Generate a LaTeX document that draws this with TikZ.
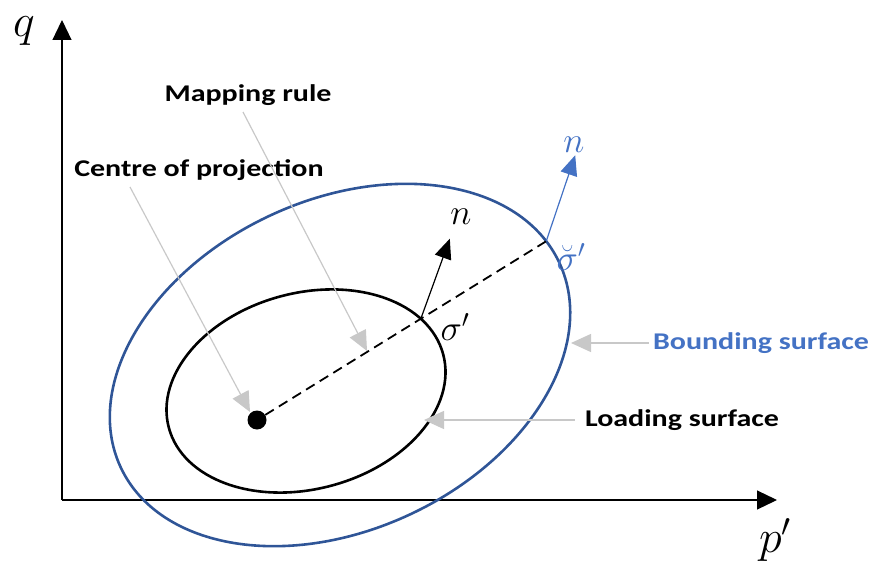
\RequirePackage{fix-cm}
\documentclass[tikz,border=0pt]{standalone}
\usepackage[no-math]{fontspec}
\setmainfont{Carlito}
\usetikzlibrary{arrows.meta,intersections,calc}
\definecolor{bnd}{HTML}{2F5597}
\definecolor{lbl}{HTML}{4472C4}
\definecolor{lead}{HTML}{C8C8C8}
\tikzset{
  axis/.style={line width=1.2pt,-{Triangle[length=20pt,width=19pt]}},
  leader/.style={lead,line width=1.2pt,-{Triangle[length=20pt,width=18pt]}},
  caption/.style={font=\fontsize{24}{28}\selectfont\bfseries,inner sep=0pt,xscale=1.25},
  mathlbl/.style={font=\fontsize{46}{50}\selectfont,inner sep=0pt},
  smlbl/.style={font=\fontsize{36}{40}\selectfont,inner sep=0pt},
}
\begin{document}
\begin{tikzpicture}[x=1pt,y=-1pt]
\useasboundingbox (0,0) rectangle (870,567);
% axes
\coordinate (O) at (62,500);
\coordinate (qtip) at (62,20);
\coordinate (ptip) at (777,500);
\draw[axis] (O) -- (qtip);
\draw[axis] (O) -- (ptip);
\node[mathlbl] (q) at (24,31) {$q$};
\node[mathlbl] (p) at (775,540) {$p'$};
% ellipses
\coordinate (cb) at (340,365);
\coordinate (cl) at (306,391);
\draw[bnd,line width=2.6pt,name path=bound,rotate around={25:(cb)}] (cb) ellipse [x radius=242,y radius=165];
\draw[black,line width=2.6pt,name path=load,rotate around={15:(cl)}] (cl) ellipse [x radius=142,y radius=98];
% centre
\node[circle,fill=black,inner sep=0pt,minimum size=19pt] (c) at (257,420) {};
\path[name path=ray] (c.center) -- ($(c.center)!1!(600,208)$);
\path[name intersections={of=ray and load,by=s1}];
\path[name intersections={of=ray and bound,by=s2}];
\draw[line width=1.8pt,dash pattern=on 10pt off 6pt] (c) -- (s2);
% normals
\coordinate (n1) at ($(s1)+(29,-80)$);
\coordinate (n2) at ($(s2)+(29,-86)$);
\draw[line width=1.2pt,-{Triangle[length=20pt,width=17pt]}] (s1) -- (n1);
\draw[lbl,line width=1.2pt,-{Triangle[length=20pt,width=17pt]}] (s2) -- (n2);
\node[smlbl] (nl1) at (461,217) {$n$};
\node[lbl,smlbl] (nl2) at (574,145) {$n$};
\node[smlbl] (sl1) at (455,327) {$\sigma'$};
\node[lbl,smlbl] (sl2) at (571,257) {$\breve{\sigma}'$};
% captions
\node[caption] (cop) at (199,170) {Centre of projection};
\node[caption] (map) at (248,95) {Mapping rule};
\node[caption,lbl] (bs) at (761,343) {Bounding surface};
\node[caption] (ls) at (682,420) {Loading surface};
\coordinate (cop0) at (130,187);
\coordinate (cop1) at (250,412);
\coordinate (map0) at (243,112);
\coordinate (map1) at (367,351);
\coordinate (bs1) at (571,343);
\coordinate (ls1) at (424,420);
\draw[leader] ([xshift=-4pt]bs.west) -- (bs1);
\draw[leader] (cop0) -- (cop1);
\draw[leader] (map0) -- (map1);
\draw[leader] ([xshift=-10pt]ls.west) -- (ls1);
\end{tikzpicture}
\end{document}
